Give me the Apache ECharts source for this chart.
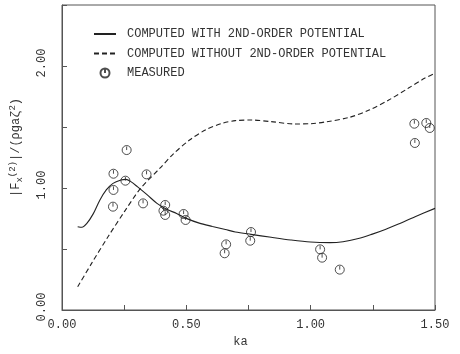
<!DOCTYPE html>
<html>
<head>
<meta charset="utf-8">
<script src="https://cdn.jsdelivr.net/npm/echarts@6/dist/echarts.min.js"></script>
<style>
  html, body { margin: 0; padding: 0; background: #fff; }
  #chart { width: 460px; height: 354px; }
</style>
</head>
<body>
<div id="chart"></div>
<script>
// Second-order horizontal force vs ka
const withPotential = [
  [0.063, 0.683], [0.080, 0.678], [0.100, 0.710], [0.126, 0.790], [0.152, 0.900],
  [0.178, 0.984], [0.205, 1.038], [0.237, 1.066], [0.257, 1.071], [0.277, 1.052],
  [0.303, 1.011], [0.343, 0.943], [0.382, 0.874], [0.421, 0.825], [0.461, 0.792],
  [0.500, 0.751], [0.552, 0.712], [0.605, 0.685], [0.657, 0.660], [0.697, 0.640],
  [0.760, 0.620], [0.841, 0.596], [0.920, 0.574], [0.999, 0.557], [1.078, 0.552],
  [1.130, 0.560], [1.196, 0.588], [1.248, 0.622], [1.300, 0.660], [1.353, 0.705],
  [1.420, 0.765], [1.500, 0.833]
];
const withoutPotential = [
  [0.063, 0.190], [0.119, 0.382], [0.185, 0.600], [0.251, 0.806], [0.316, 0.997],
  [0.395, 1.165], [0.448, 1.280], [0.513, 1.393], [0.579, 1.478], [0.644, 1.530],
  [0.697, 1.552], [0.762, 1.557], [0.841, 1.544], [0.933, 1.525], [1.000, 1.527],
  [1.064, 1.543], [1.156, 1.579], [1.235, 1.639], [1.314, 1.721], [1.392, 1.817],
  [1.458, 1.899], [1.500, 1.940]
];
const measured = [
  [0.207, 1.117], [0.207, 0.984], [0.205, 0.847], [0.260, 1.311], [0.255, 1.060],
  [0.340, 1.112], [0.326, 0.874], [0.415, 0.861], [0.408, 0.814], [0.415, 0.779],
  [0.489, 0.787], [0.497, 0.738], [0.660, 0.538], [0.654, 0.465], [0.760, 0.639],
  [0.757, 0.568], [1.038, 0.497], [1.046, 0.429], [1.117, 0.331], [1.417, 1.527],
  [1.465, 1.533], [1.479, 1.492], [1.419, 1.369]
];
const xTickLabels = ['0.00', '0.50', '1.00', '1.50'];
const yTickLabels = ['0.00', '1.00', '2.00'];
const seriesNames = [
  'COMPUTED WITH 2ND-ORDER POTENTIAL',
  'COMPUTED WITHOUT 2ND-ORDER POTENTIAL',
  'MEASURED'
];

const ink = '#333';
const font = 'Liberation Mono';
const markerPath = 'path://M0,-5A5,5,0,1,1,0,5A5,5,0,1,1,0,-5M0,0L0,-4';

const chart = echarts.init(document.getElementById('chart'), null, { renderer: 'canvas' });

function pickLabel(list, v) {
  const s = v.toFixed(2);
  return list.indexOf(s) >= 0 ? s : '';
}

// legend entries for the curves show only their line, not a marker
const hiddenMarker = { opacity: 0, color: 'rgba(0,0,0,0)', borderWidth: 0 };

chart.setOption({
  animation: false,
  backgroundColor: '#fff',
  grid: {
    left: 53, right: 25, top: 5, bottom: 44,
    show: true, borderColor: '#555', borderWidth: 1
  },
  legend: {
    orient: 'vertical',
    left: 88, top: 22,
    itemWidth: 22, itemHeight: 9, itemGap: 5.5,
    textStyle: { fontFamily: font, fontSize: 12, color: ink, padding: [0, 0, 0, 6], lineHeight: 14 },
    data: [
      { name: seriesNames[0], itemStyle: hiddenMarker },
      { name: seriesNames[1], itemStyle: hiddenMarker },
      { name: seriesNames[2] }
    ]
  },
  xAxis: {
    type: 'value', min: 0, max: 1.5, interval: 0.25,
    name: 'ka', nameLocation: 'middle', nameGap: 22,
    nameTextStyle: { fontFamily: font, fontSize: 12, color: ink, padding: [0, 16, 0, 0] },
    axisLine: { show: true, lineStyle: { color: '#555', width: 1 } },
    axisTick: { show: true, inside: true, length: 5, lineStyle: { color: '#555' } },
    splitLine: { show: false },
    axisLabel: {
      fontFamily: font, fontSize: 12, color: ink, margin: 9,
      formatter: v => pickLabel(xTickLabels, v)
    }
  },
  yAxis: {
    type: 'value', min: 0, max: 2.5, interval: 0.5,
    name: '{b||F}{sub|x}{sup|(2)}{b||/(ρgaζ}{sup|2}{b|)}',
    nameLocation: 'middle', nameRotate: 90, nameGap: 38,
    nameTextStyle: {
      fontFamily: font, fontSize: 12, color: ink, padding: [0, 0, 0, 20],
      rich: {
        b: { fontFamily: font, fontSize: 12, color: ink, lineHeight: 16, verticalAlign: 'middle' },
        sup: { fontFamily: font, fontSize: 9, color: ink, lineHeight: 16, verticalAlign: 'top' },
        sub: { fontFamily: font, fontSize: 9, color: ink, lineHeight: 16, verticalAlign: 'bottom' }
      }
    },
    axisLine: { show: true, lineStyle: { color: '#555', width: 1 } },
    axisTick: { show: true, inside: true, length: 5, lineStyle: { color: '#555' } },
    splitLine: { show: false },
    axisLabel: {
      fontFamily: font, fontSize: 12, color: ink, margin: 14, rotate: 90,
      padding: [0, 0, 0, 6],
      formatter: v => pickLabel(yTickLabels, v)
    }
  },
  series: [
    {
      name: seriesNames[0], type: 'line', data: withPotential,
      smooth: 0.3, symbol: 'none',
      lineStyle: { color: '#222', width: 1.1, type: 'solid' },
      itemStyle: { color: '#222' }
    },
    {
      name: seriesNames[1], type: 'line', data: withoutPotential,
      smooth: 0.3, symbol: 'none',
      lineStyle: { color: '#222', width: 1.1, type: [5, 3] },
      itemStyle: { color: '#222' }
    },
    {
      name: seriesNames[2], type: 'scatter', data: measured,
      symbol: markerPath, symbolSize: 9,
      itemStyle: { color: 'rgba(255,255,255,0)', borderColor: '#222', borderWidth: 1 }
    }
  ]
});
</script>
</body>
</html>
